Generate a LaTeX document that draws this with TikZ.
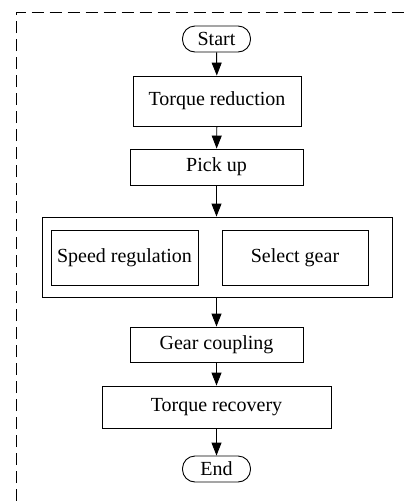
\documentclass[tikz,border=0pt]{standalone}
\usepackage{fontspec}
\setmainfont{Liberation Serif}
\usetikzlibrary{arrows.meta}
\begin{document}
\begin{tikzpicture}[x=1pt,y=-1pt,
  every node/.style={font=\fontsize{20}{23}\selectfont, inner sep=0pt, line width=0.9pt},
  box/.style={draw, rectangle, align=center},
  term/.style={draw, rectangle, rounded corners=12.5pt, minimum width=68pt, minimum height=26pt},
  arr/.style={line width=0.9pt, -{Triangle[length=13pt,width=10pt]}},
  frame/.style={dash pattern=on 12pt off 6pt, line width=0.9pt}]
\useasboundingbox (0,0) rectangle (409,501);
\coordinate (fbl) at (16,501);
\coordinate (ftr) at (409,12.5);
\draw[frame] (fbl) |- (ftr);
\node[term] (start) at (216.5,39) {Start};
\node[box, minimum width=168pt, minimum height=50pt] (tr) at (217,101) {Torque reduction};
\node[box, minimum width=173pt, minimum height=36pt] (pu) at (216.5,167) {Pick up};
\node[box, minimum width=350pt, minimum height=80pt] (outer) at (217,257) {};
\node[box, minimum width=147pt, minimum height=55pt] (sr) at (124.5,257.5) {Speed regulation};
\node[box, minimum width=146pt, minimum height=55pt] (sg) at (295,257.5) {Select gear};
\node[box, minimum width=173pt, minimum height=35pt] (gc) at (216.5,344.5) {Gear coupling};
\node[box, minimum width=229pt, minimum height=42pt] (rec) at (216.5,407) {Torque recovery};
\node[term] (end) at (216.5,469) {End};
\draw[arr] (start) -- (tr);
\draw[arr] (tr) -- (pu);
\draw[arr] (pu) -- (outer.north -| pu.south);
\draw[arr] (outer.south -| gc.north) -- (gc);
\draw[arr] (gc) -- (rec);
\draw[arr] (rec) -- (end);
\end{tikzpicture}
\end{document}
